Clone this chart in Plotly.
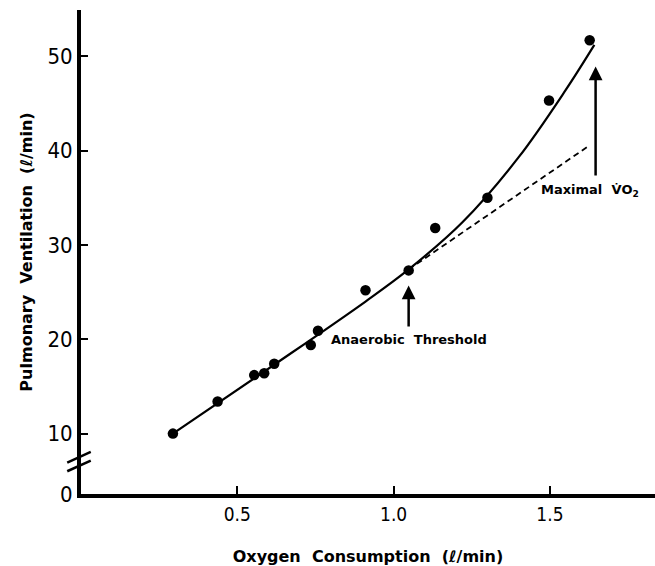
import plotly.graph_objects as go

# Measured points (oxygen consumption l/min, pulmonary ventilation l/min)
vo2 = [0.294, 0.437, 0.554, 0.586, 0.618, 0.735, 0.758, 0.91, 1.048, 1.133, 1.30, 1.497, 1.627]
ve = [10.0, 13.4, 16.2, 16.4, 17.4, 19.4, 20.9, 25.2, 27.3, 31.8, 35.0, 45.3, 51.7]

# Hand-drawn fitted curve
curve_x = [0.294, 0.618, 0.91, 1.048, 1.22, 1.40, 1.55, 1.642]
curve_y = [10.0, 17.3, 24.0, 27.4, 32.4, 39.3, 46.4, 51.2]

# Linear extrapolation (dashed)
dash_x = [1.048, 1.62]
dash_y = [27.4, 40.4]

# Y ticks (axis is broken between 0 and 10)
ytick_vals = [3.6, 10, 20, 30, 40, 50]
ytick_text = ["0", "10", "20", "30", "40", "50"]
xtick_vals = [0.5, 1.0, 1.5]
xtick_text = ["0.5", "1.0", "1.5"]

# Arrow annotations
at_x, at_tip, at_tail, at_label_y = 1.048, 25.7, 21.2, 20.0
mx_x, mx_tip, mx_tail, mx_label_y = 1.646, 48.9, 37.2, 35.8

tick_family = "Liberation Sans Narrow, DejaVu Sans Condensed, Liberation Sans, Arial"
bold_font = "DejaVu Sans, Liberation Sans, Arial, sans-serif"

fig = go.Figure()
fig.add_trace(go.Scatter(x=curve_x, y=curve_y, mode="lines",
                         line=dict(color="black", width=2.2, shape="spline", smoothing=1.0),
                         showlegend=False, hoverinfo="skip"))
fig.add_trace(go.Scatter(x=dash_x, y=dash_y, mode="lines",
                         line=dict(color="black", width=1.8, dash="6px,4px"),
                         showlegend=False, hoverinfo="skip"))
fig.add_trace(go.Scatter(x=vo2, y=ve, mode="markers",
                         marker=dict(color="black", size=10.5),
                         showlegend=False))

fig.add_annotation(x=at_x, y=at_tip, ax=at_x, ay=at_tail, xref="x", yref="y",
                   axref="x", ayref="y", text="", showarrow=True,
                   arrowhead=2, arrowsize=1.1, arrowwidth=2.5, arrowcolor="black")
fig.add_annotation(x=at_x, y=at_label_y, xref="x", yref="y", text="<b>Anaerobic  Threshold</b>",
                   showarrow=False, font=dict(family=bold_font, size=13, color="black"))
fig.add_annotation(x=mx_x, y=mx_tip, ax=mx_x, ay=mx_tail, xref="x", yref="y",
                   axref="x", ayref="y", text="", showarrow=True,
                   arrowhead=2, arrowsize=1.1, arrowwidth=2.5, arrowcolor="black")
fig.add_annotation(x=1.627, y=mx_label_y, xref="x", yref="y", text="<b>Maximal  V̇O<sub>2</sub></b>",
                   showarrow=False, font=dict(family=bold_font, size=13, color="black"))

# axis break marks
for dy in (0.0, 0.018):
    fig.add_shape(type="line", xref="paper", yref="paper",
                  x0=-0.024, x1=0.017, y0=0.065 - dy, y1=0.087 - dy,
                  line=dict(color="black", width=2.5))

fig.update_layout(
    width=655, height=566,
    margin=dict(l=81, r=0, t=10, b=72),
    paper_bgcolor="white", plot_bgcolor="white",
    xaxis=dict(range=[0, 1.836], tickvals=xtick_vals, ticktext=xtick_text,
               ticks="inside", ticklen=8, tickwidth=2, tickcolor="black",
               showline=True, linewidth=4, linecolor="black", showgrid=False, zeroline=False,
               tickfont=dict(family=tick_family, size=19, color="black"),
               title=dict(text="<b>Oxygen  Consumption  (ℓ/min)</b>", standoff=30,
                          font=dict(family=bold_font, size=16, color="black"))),
    yaxis=dict(range=[3.6, 54.9], tickvals=ytick_vals, ticktext=ytick_text,
               ticks="inside", ticklen=7, tickwidth=2, tickcolor="black",
               showline=True, linewidth=4, linecolor="black", showgrid=False, zeroline=False,
               tickfont=dict(family=tick_family, size=22, color="black"),
               title=dict(text="<b>Pulmonary  Ventilation  (ℓ/min)</b>", standoff=12,
                          font=dict(family=bold_font, size=16, color="black"))),
)

fig.write_html("out.html")
